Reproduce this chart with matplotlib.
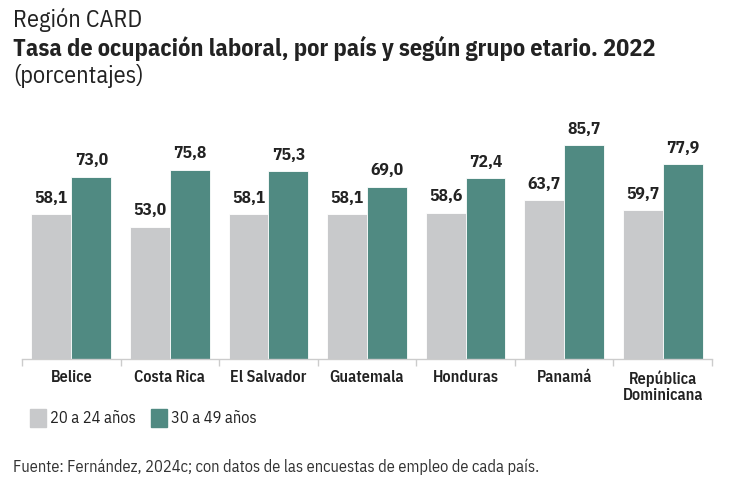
import numpy as np
import matplotlib
matplotlib.use('Agg')
import matplotlib.pyplot as plt
import matplotlib.patches as mpatches

plt.rcParams['font.family'] = ['IBM Plex Sans Condensed', 'DejaVu Sans']

# ─── Data ─────────────────────────────────────────────────────────────────────
paises = ["Belice", "Costa Rica", "El Salvador", "Guatemala", "Honduras",
          "Panamá", "República\nDominicana"]
grupo_20_24 = [58.1, 53.0, 58.1, 58.1, 58.6, 63.7, 59.7]
grupo_30_49 = [73.0, 75.8, 75.3, 69.0, 72.4, 85.7, 77.9]
series_labels = ["20 a 24 años", "30 a 49 años"]

GRAY = '#C8C9CB'
TEAL = '#508A82'
TXT = '#222222'

W, H = 733, 496
fig = plt.figure(figsize=(W / 100, H / 100), dpi=100)

# axes placed in pixel coords: baseline at y=359, x from 22 to 712
ymax = 95
px_per_unit = 2.497
top_px = 359 - ymax * px_per_unit
ax = fig.add_axes([22 / W, (H - 359) / H, (712 - 22) / W, (359 - top_px) / H])

x = np.arange(len(paises))
width = 0.405

b1 = ax.bar(x - width / 2, grupo_20_24, width, color=GRAY, edgecolor='white', linewidth=0.6)
b2 = ax.bar(x + width / 2, grupo_30_49, width, color=TEAL, edgecolor='white', linewidth=0.6)

for bars, vals in ((b1, grupo_20_24), (b2, grupo_30_49)):
    for bar, v in zip(bars, vals):
        ax.annotate(f'{v:.1f}'.replace('.', ','),
                    (bar.get_x() + bar.get_width() / 2, v),
                    xytext=(0, 6), textcoords='offset points',
                    ha='center', va='bottom', fontsize=12.6, fontweight='bold', color=TXT)

ax.set_xlim(-0.5, len(paises) - 0.5)
ax.set_ylim(0, ymax)
ax.set_yticks([])
for s in ('top', 'right', 'left'):
    ax.spines[s].set_visible(False)
ax.spines['bottom'].set_color('#CCCCCC')
ax.spines['bottom'].set_linewidth(1.0)

# group separators as ticks below the baseline
ax.set_xticks(np.arange(len(paises) + 1) - 0.5)
ax.set_xticklabels([])
ax.tick_params(axis='x', length=5, color='#CCCCCC', width=1.0)
ax.set_xticks(x, minor=True)
ax.set_xticklabels(paises, minor=True, fontsize=11.6, color=TXT, fontweight=600,
                   linespacing=1.1, va='top')
ax.tick_params(axis='x', which='minor', length=0, pad=8)

# ─── Titles ───────────────────────────────────────────────────────────────────
fig.text(13 / W, 1 - 20 / H, "Región CARD", fontsize=17.4, color=TXT, va='center')
fig.text(13 / W, 1 - 48 / H, "Tasa de ocupación laboral, por país y según grupo etario. 2022",
         fontsize=17.5, fontweight='bold', color=TXT, va='center')
fig.text(13 / W, 1 - 76 / H, "(porcentajes)", fontsize=17.4, color=TXT, va='center')

# ─── Legend ───────────────────────────────────────────────────────────────────
handles = [mpatches.Patch(color=GRAY, label=series_labels[0]),
           mpatches.Patch(color=TEAL, label=series_labels[1])]
fig.legend(handles=handles, loc='center left', bbox_to_anchor=(30 / W, 1 - 418 / H),
           ncol=2, frameon=False, fontsize=11.8, handlelength=0.95, handleheight=1.3,
           handletextpad=0.3, columnspacing=0.9, labelcolor=TXT,
           borderpad=0, borderaxespad=0)

fig.text(13 / W, 1 - 467 / H,
         "Fuente: Fernández, 2024c; con datos de las encuestas de empleo de cada país.",
         fontsize=11.8, color='#333333', va='center')

fig.savefig('out.png', dpi=100)
